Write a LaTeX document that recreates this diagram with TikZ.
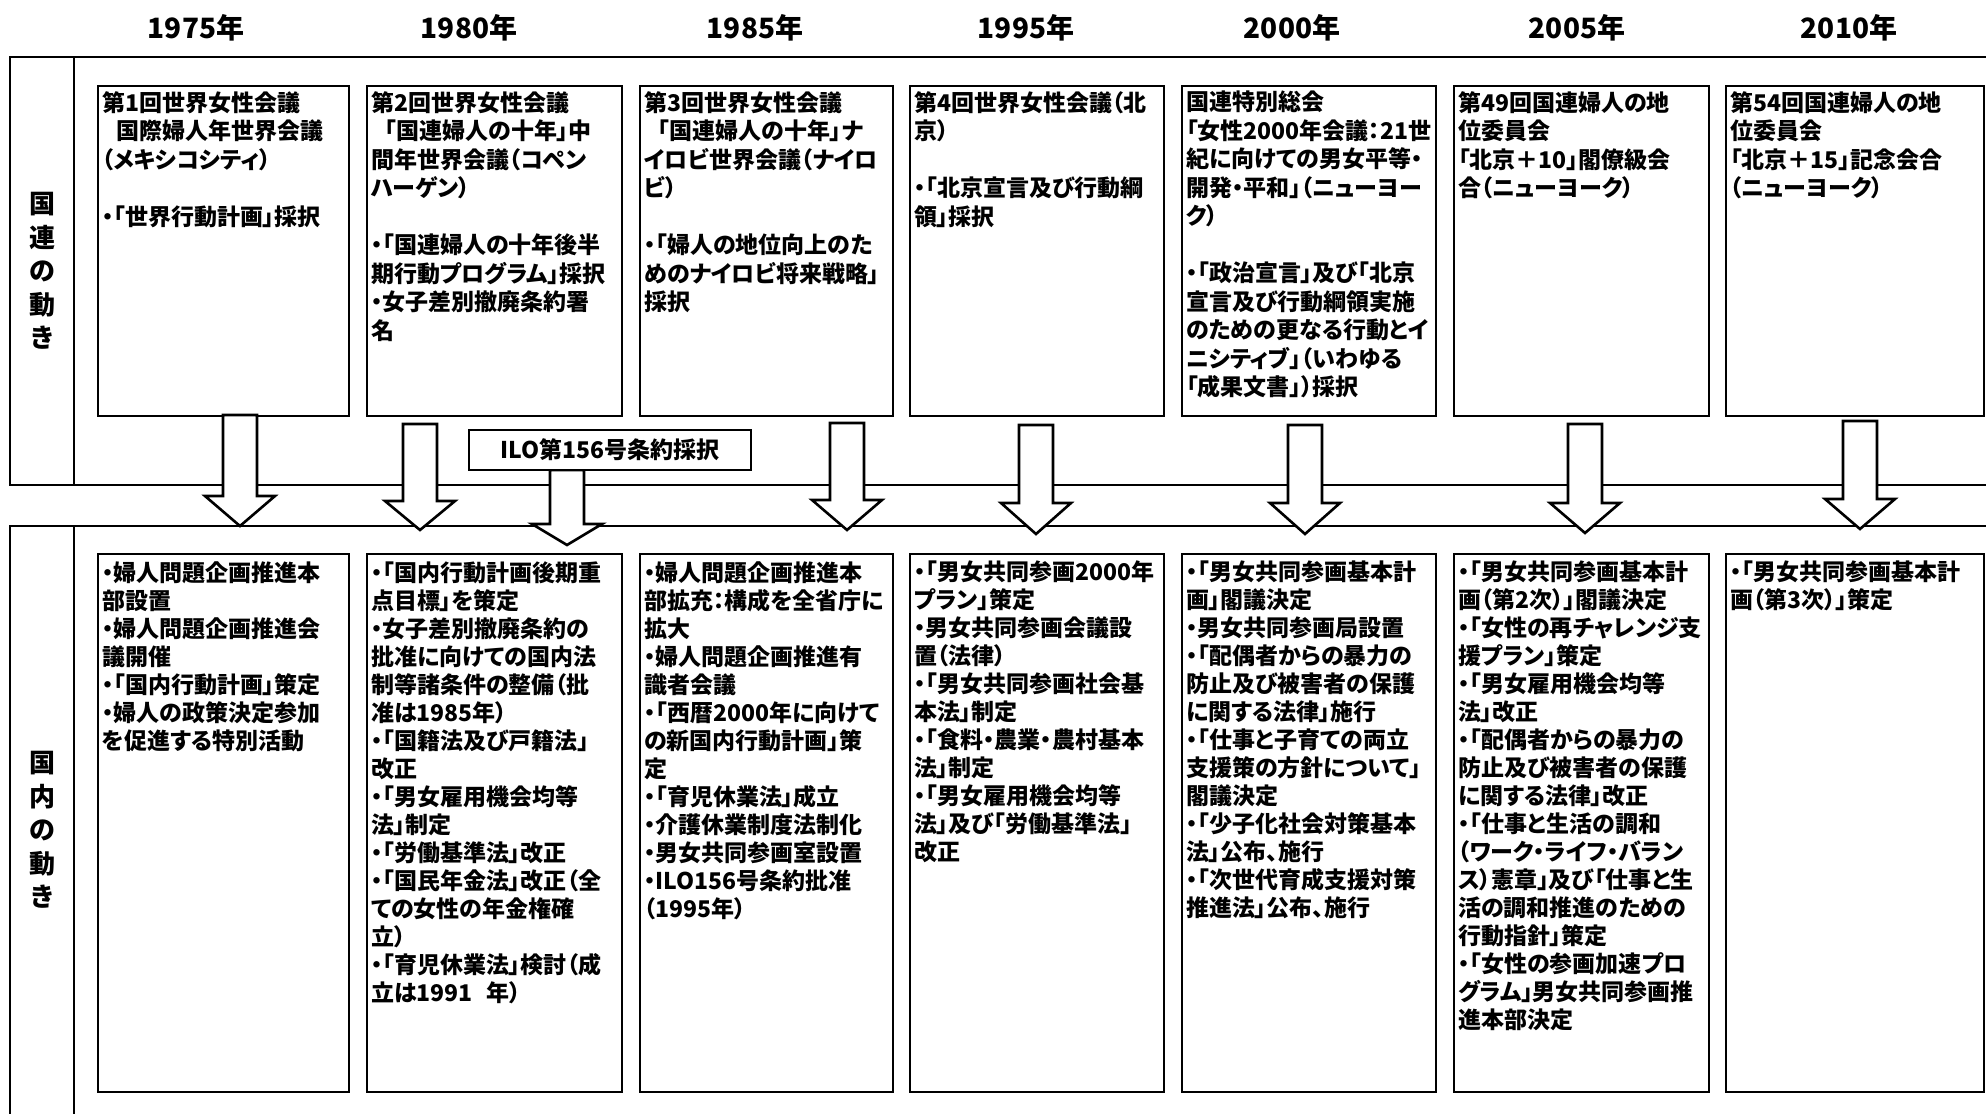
\documentclass[tikz,border=0pt]{standalone}
\usepackage{fontspec}
\newfontfamily\jp[CharacterWidth=AlternateProportional]{Noto Sans CJK JP}
\begin{document}
\begin{tikzpicture}[x=1pt,y=-1pt,
  frame/.style={line width=2.8pt},
  box/.style={draw, line width=2.3pt, rectangle, inner sep=0pt, anchor=north west, fill=white},
  txt/.style={anchor=north west, inner sep=0pt, align=left, font=\jp\bfseries\fontsize{23}{28.5}\selectfont},
  txtb/.style={txt, font=\jp\bfseries\fontsize{23}{28}\selectfont},
  yr/.style={inner sep=0pt, font=\jp\bfseries\fontsize{28}{30}\selectfont},
  lab/.style={inner sep=0pt, align=center, font=\jp\bfseries\fontsize{26}{33.5}\selectfont},
  arr/.style={draw, fill=white, line width=2.6pt, line join=miter}
]
\useasboundingbox[fill=white] (0,0) rectangle (1986,1114);

% frames
\draw[frame] (1986,57) -- (10,57) -- (10,485) -- (1986,485);
\draw[frame] (74,57) -- (74,485);
\draw[frame] (1986,526) -- (10,526) -- (10,1114);
\draw[frame] (74,526) -- (74,1114);

% left labels
\node[lab] (lun) at (42,271) {国\\連\\の\\動\\き};
\node[lab] (ldom) at (42,830) {国\\内\\の\\動\\き};

% years
\node[yr] (y1) at (196,28) {1975年};
\node[yr] (y2) at (469,28) {1980年};
\node[yr] (y3) at (755,28) {1985年};
\node[yr] (y4) at (1026,28) {1995年};
\node[yr] (y5) at (1292,28) {2000年};
\node[yr] (y6) at (1577,28) {2005年};
\node[yr] (y7) at (1849,28) {2010年};

% top boxes
\node[box, minimum width=251, minimum height=330] (u1) at (97,85) {};
\node[box, minimum width=255, minimum height=330] (u2) at (366,85) {};
\node[box, minimum width=253, minimum height=330] (u3) at (639,85) {};
\node[box, minimum width=254, minimum height=330] (u4) at (909,85) {};
\node[box, minimum width=254, minimum height=330] (u5) at (1181,85) {};
\node[box, minimum width=255, minimum height=330] (u6) at (1453,85) {};
\node[box, minimum width=258, minimum height=330] (u7) at (1725,85) {};

\node[txt] (u1t) at ([xshift=5pt,yshift=-6pt]u1.north west) {第1回世界女性会議\\
\hspace*{0.6em}国際婦人年世界会議\\
（メキシコシティ）\\[28.5pt]
・「世界行動計画」採択};
\node[txt] (u2t) at ([xshift=5pt,yshift=-6pt]u2.north west) {第2回世界女性会議\\
\hspace*{0.6em}「国連婦人の十年」中\\
間年世界会議（コペン\\
ハーゲン）\\[28.5pt]
・「国連婦人の十年後半\\
期行動プログラム」採択\\
・女子差別撤廃条約署\\
名};
\node[txt] (u3t) at ([xshift=5pt,yshift=-6pt]u3.north west) {第3回世界女性会議\\
\hspace*{0.6em}「国連婦人の十年」ナ\\
イロビ世界会議（ナイロ\\
ビ）\\[28.5pt]
・「婦人の地位向上のた\\
めのナイロビ将来戦略」\\
採択};
\node[txt] (u4t) at ([xshift=5pt,yshift=-6pt]u4.north west) {第4回世界女性会議（北\\
京）\\[28.5pt]
・「北京宣言及び行動綱\\
領」採択};
\node[txt] (u5t) at ([xshift=5pt,yshift=-6pt]u5.north west) {国連特別総会\\
「女性2000年会議：21世\\
紀に向けての男女平等・\\
開発・平和」（ニューヨー\\
ク）\\[28.5pt]
・「政治宣言」及び「北京\\
宣言及び行動綱領実施\\
のための更なる行動とイ\\
ニシティブ」（いわゆる\\
「成果文書」）採択};
\node[txt] (u6t) at ([xshift=5pt,yshift=-6pt]u6.north west) {第49回国連婦人の地\\
位委員会\\
「北京＋10」閣僚級会\\
合（ニューヨーク）};
\node[txt] (u7t) at ([xshift=5pt,yshift=-6pt]u7.north west) {第54回国連婦人の地\\
位委員会\\
「北京＋15」記念会合\\
（ニューヨーク）};

% bottom boxes
\node[box, minimum width=251, minimum height=538] (d1) at (97,553) {};
\node[box, minimum width=255, minimum height=538] (d2) at (366,553) {};
\node[box, minimum width=253, minimum height=538] (d3) at (639,553) {};
\node[box, minimum width=254, minimum height=538] (d4) at (909,553) {};
\node[box, minimum width=254, minimum height=538] (d5) at (1181,553) {};
\node[box, minimum width=255, minimum height=538] (d6) at (1453,553) {};
\node[box, minimum width=258, minimum height=538] (d7) at (1725,553) {};

\node[txtb] (d1t) at ([xshift=5pt,yshift=-8pt]d1.north west) {・婦人問題企画推進本\\
部設置\\
・婦人問題企画推進会\\
議開催\\
・「国内行動計画」策定\\
・婦人の政策決定参加\\
を促進する特別活動};
\node[txtb] (d2t) at ([xshift=5pt,yshift=-8pt]d2.north west) {・「国内行動計画後期重\\
点目標」を策定\\
・女子差別撤廃条約の\\
批准に向けての国内法\\
制等諸条件の整備（批\\
准は1985年）\\
・「国籍法及び戸籍法」\\
改正\\
・「男女雇用機会均等\\
法」制定\\
・「労働基準法」改正\\
・「国民年金法」改正（全\\
ての女性の年金権確\\
立）\\
・「育児休業法」検討（成\\
立は1991\hspace{0.6em}年）};
\node[txtb] (d3t) at ([xshift=5pt,yshift=-8pt]d3.north west) {・婦人問題企画推進本\\
部拡充：構成を全省庁に\\
拡大\\
・婦人問題企画推進有\\
識者会議\\
・「西暦2000年に向けて\\
の新国内行動計画」策\\
定\\
・「育児休業法」成立\\
・介護休業制度法制化\\
・男女共同参画室設置\\
・ILO156号条約批准\\
（1995年）};
\node[txtb] (d4t) at ([xshift=5pt,yshift=-8pt]d4.north west) {・「男女共同参画2000年\\
プラン」策定\\
・男女共同参画会議設\\
置（法律）\\
・「男女共同参画社会基\\
本法」制定\\
・「食料・農業・農村基本\\
法」制定\\
・「男女雇用機会均等\\
法」及び「労働基準法」\\
改正};
\node[txtb] (d5t) at ([xshift=5pt,yshift=-8pt]d5.north west) {・「男女共同参画基本計\\
画」閣議決定\\
・男女共同参画局設置\\
・「配偶者からの暴力の\\
防止及び被害者の保護\\
に関する法律」施行\\
・「仕事と子育ての両立\\
支援策の方針について」\\
閣議決定\\
・「少子化社会対策基本\\
法」公布、施行\\
・「次世代育成支援対策\\
推進法」公布、施行};
\node[txtb] (d6t) at ([xshift=5pt,yshift=-8pt]d6.north west) {・「男女共同参画基本計\\
画（第2次）」閣議決定\\
・「女性の再チャレンジ支\\
援プラン」策定\\
・「男女雇用機会均等\\
法」改正\\
・「配偶者からの暴力の\\
防止及び被害者の保護\\
に関する法律」改正\\
・「仕事と生活の調和\\
（ワーク・ライフ・バラン\\
ス）憲章」及び「仕事と生\\
活の調和推進のための\\
行動指針」策定\\
・「女性の参画加速プロ\\
グラム」男女共同参画推\\
進本部決定};
\node[txtb] (d7t) at ([xshift=5pt,yshift=-8pt]d7.north west) {・「男女共同参画基本計\\
画（第3次）」策定};

% block arrows
\newcommand\blockarr[4]{%
  \draw[arr] (#1-17,#2) -- (#1-17,#3) -- (#1-35,#3) -- (#1,#4) -- (#1+35,#3) -- (#1+17,#3) -- (#1+17,#2) -- cycle;}
\blockarr{240}{415}{496}{526}
\blockarr{420}{424}{501}{530}
\blockarr{847}{423}{500}{530}
\blockarr{1036}{425}{503}{534}
\blockarr{1305}{425}{503}{534}
\blockarr{1585}{424}{503}{533}
\blockarr{1860}{421}{499}{529}
\blockarr{567}{470}{524}{545}

% ILO box
\node[box, anchor=center, minimum width=282, minimum height=40, line width=2.2pt,
      font=\jp\bfseries\fontsize{23}{26}\selectfont] (ilo) at (610,450) {ILO第156号条約採択};
\end{tikzpicture}
\end{document}
